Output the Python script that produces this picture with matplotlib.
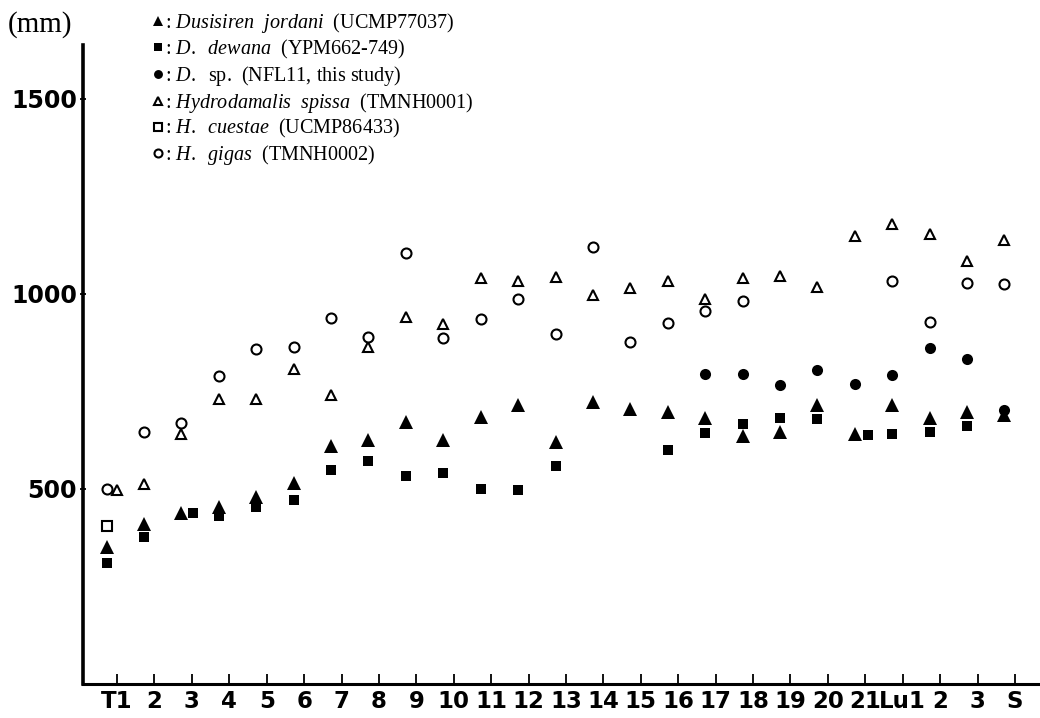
import matplotlib
matplotlib.use("Agg")
import matplotlib.pyplot as plt
import numpy as np

plt.rcParams['mathtext.fontset'] = 'custom'
plt.rcParams['mathtext.rm'] = 'Liberation Serif'
plt.rcParams['mathtext.it'] = 'Liberation Serif:italic'

nan = np.nan

# vertebra positions (thoracic, lumbar, sacral)
cats = ["T1", "2", "3", "4", "5", "6", "7", "8", "9", "10", "11", "12", "13",
        "14", "15", "16", "17", "18", "19", "20", "21", "Lu1", "2", "3", "S"]

# cumulative length (mm) per specimen
d_jordani = [350, 410, 438, 454, 479, 515, 610, 626, 672, 626, 685, 715, 620,
             723, 705, 697, 682, 636, 646, 715, 641, 715, 682, 697, 690]
d_dewana = [310, 377, 438, 431, 454, 472, 549, 572, 533, 541, 500, 497, 559,
            nan, nan, 600, 644, 667, 682, 679, 638, 641, 646, 662, nan]
d_sp = [nan] * 16 + [795, 795, 767, 805, 769, 792, 862, 833, 703]
h_spissa = [497, 513, 641, 731, 731, 808, 741, 864, 941, 923, 1041, 1033, 1044,
            997, 1015, 1033, 987, 1041, 1046, 1018, 1149, 1180, 1154, 1085, 1138]
h_cuestae = [405] + [nan] * 24
h_gigas = [500, 646, 669, 790, 859, 864, 938, 890, 1105, 887, 936, 987, 897,
           1121, 877, 926, 956, 982, nan, nan, nan, 1033, 928, 1028, 1026]

labels = [
    r": $\mathit{Dusisiren\ \ jordani}$  (UCMP77037)",
    r": $\mathit{D.\ \ dewana}$  (YPM662-749)",
    r": $\mathit{D.}$  sp.  (NFL11, this study)",
    r": $\mathit{Hydrodamalis\ \ spissa}$  (TMNH0001)",
    r": $\mathit{H.\ \ cuestae}$  (UCMP86433)",
    r": $\mathit{H.\ \ gigas}$  (TMNH0002)",
]

x = np.arange(len(cats))
shift = -0.28
# small sideways nudges where symbols would overlap
nudge = {"spissa": {0: 0.27}, "dewana": {2: 0.30, 20: 0.35}}


def xpos(name):
    xs = (x + shift).astype(float)
    for i, d in nudge.get(name, {}).items():
        xs[i] += d
    return xs


fig = plt.figure(figsize=(10.4, 7.18), dpi=100)
ax = fig.add_axes([83 / 1040, 34 / 718, 1 - 83 / 1040, (684 - 45) / 718])

h1, = ax.plot(xpos("jordani"), d_jordani, '^', color='black', ms=9.8, mew=0)
h2, = ax.plot(xpos("dewana"), d_dewana, 's', color='black', ms=7.6, mew=0)
h3, = ax.plot(xpos("sp"), d_sp, 'o', color='black', ms=8.0, mew=0)
h4, = ax.plot(xpos("spissa"), h_spissa, '^', mfc='white', mec='black', ms=6.8, mew=1.5)
h5, = ax.plot(xpos("cuestae"), h_cuestae, 's', mfc='white', mec='black', ms=7.0, mew=1.5)
h6, = ax.plot(xpos("gigas"), h_gigas, 'o', mfc='white', mec='black', ms=7.2, mew=1.5)

ax.set_xlim(-0.91, 24.67)
ax.set_ylim(0, 1638)

ax.spines['top'].set_visible(False)
ax.spines['right'].set_visible(False)
ax.spines['left'].set_linewidth(2.6)
ax.spines['bottom'].set_linewidth(2.2)

ax.set_xticks(x)
ax.set_xticklabels(cats, fontfamily='DejaVu Sans', fontweight='bold', fontsize=16.5)
ax.set_yticks([500, 1000, 1500])
ax.set_yticklabels(["500", "1000", "1500"], fontfamily='DejaVu Sans',
                   fontweight='bold', fontsize=17)
ax.tick_params(axis='x', direction='in', length=7, width=1.3, pad=4)
ax.tick_params(axis='y', direction='inout', length=5, width=1.3, pad=2)

fig.text(40 / 1040, 1 - 25 / 718, "(mm)", fontfamily='Liberation Serif',
         fontsize=21, ha='center', va='center')

leg = ax.legend([h1, h2, h3, h4, h5, h6], labels, loc='upper left',
                bbox_to_anchor=(141 / 1040, 1 - 1 / 718),
                bbox_transform=fig.transFigure, frameon=False,
                prop={'family': 'Liberation Serif', 'size': 14.5},
                handlelength=0.7, handletextpad=0.0, labelspacing=0.14,
                markerscale=0.8, borderpad=0)

fig.savefig("out.png", dpi=100)
